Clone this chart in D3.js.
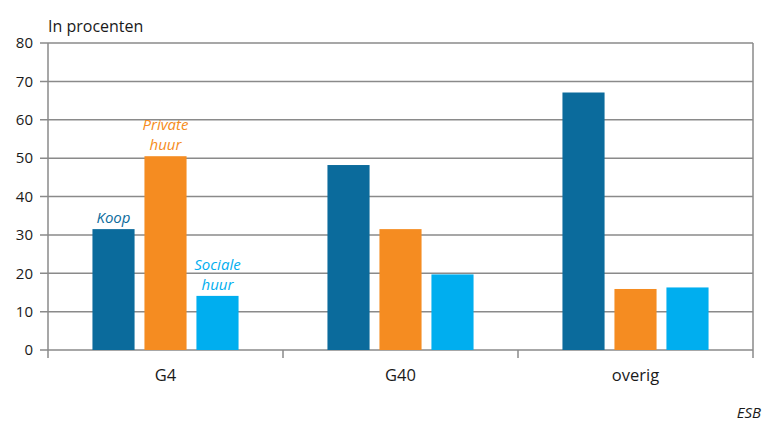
<!DOCTYPE html>
<html><head><meta charset="utf-8">
<script src="https://cdn.jsdelivr.net/npm/d3@7"></script>
<style>body{margin:0;background:#fff}svg{display:block}</style>
</head><body>
<svg id="c" width="764" height="430"></svg>
<script>
const categories = ["G4", "G40", "overig"];
const seriesNames = ["Koop", "Private huur", "Sociale huur"];
const koop = [31.5, 48.2, 67.1];
const privateHuur = [50.5, 31.5, 15.9];
const socialeHuur = [14.1, 19.7, 16.3];
const yTicks = [0, 10, 20, 30, 40, 50, 60, 70, 80];
const colors = ["#0b6b9c", "#f58c21", "#00aeef"];
const labelLines = [["Koop"], ["Private", "huur"], ["Sociale", "huur"]];

const series = [koop, privateHuur, socialeHuur];
const svg = d3.select("#c");
const m = {l: 48, r: 753, t: 43, b: 350};
const x = d3.scaleBand().domain(categories).range([m.l, m.r]).paddingInner(0).paddingOuter(0);
const x1 = d3.scaleBand().domain(d3.range(3)).range([0, x.bandwidth()]).paddingInner(0.19).paddingOuter(0.855);
const y = d3.scaleLinear().domain([0, 80]).range([m.b, m.t]);

const font = "'Open Sans', 'DejaVu Sans', sans-serif";
svg.append("g").selectAll("line").data(yTicks).join("line")
  .attr("x1", m.l - 8).attr("x2", m.r).attr("y1", d => y(d)).attr("y2", d => y(d))
  .attr("stroke", "#8a8a8a").attr("stroke-width", 1.5);
svg.append("g").selectAll("text").data(yTicks).join("text")
  .attr("x", 33).attr("y", d => y(d)).attr("dy", "0.35em").attr("text-anchor", "end")
  .attr("font-family", font).attr("font-size", 15).attr("fill", "#1a1a1a").text(d => d);
svg.append("line").attr("x1", m.l).attr("x2", m.l).attr("y1", m.t).attr("y2", m.b + 8).attr("stroke", "#8a8a8a").attr("stroke-width", 1.5);
svg.append("line").attr("x1", m.r).attr("x2", m.r).attr("y1", m.t).attr("y2", m.b + 8).attr("stroke", "#8a8a8a").attr("stroke-width", 1.5);
svg.append("g").selectAll("line").data(categories.slice(1)).join("line")
  .attr("x1", d => x(d)).attr("x2", d => x(d)).attr("y1", m.b).attr("y2", m.b + 8)
  .attr("stroke", "#8a8a8a").attr("stroke-width", 1.5);
categories.forEach((c, ci) => {
  series.forEach((s, si) => {
    svg.append("rect").attr("x", x(c) + x1(si)).attr("width", x1.bandwidth())
      .attr("y", y(s[ci])).attr("height", y(0) - y(s[ci])).attr("fill", colors[si]);
  });
});
series.forEach((s, si) => {
  const cx = x(categories[0]) + x1(si) + x1.bandwidth() / 2;
  const lines = labelLines[si];
  lines.forEach((t, li) => {
    svg.append("text").attr("x", cx).attr("y", y(s[0]) - 6 - (lines.length - 1 - li) * 20)
      .attr("text-anchor", "middle").attr("font-family", font).attr("font-style", "italic")
      .attr("font-size", 15).attr("fill", colors[si]).text(t);
  });
});
svg.append("g").selectAll("text").data(categories).join("text")
  .attr("x", d => x(d) + x.bandwidth() / 2).attr("y", 381).attr("text-anchor", "middle")
  .attr("font-family", font).attr("font-size", 16.5).attr("fill", "#1a1a1a").text(d => d);
svg.append("text").attr("x", 48).attr("y", 32).attr("font-family", font).attr("font-size", 16).attr("fill", "#1a1a1a").text("In procenten");
svg.append("text").attr("x", 761).attr("y", 418).attr("text-anchor", "end").attr("font-family", font).attr("font-style", "italic").attr("font-size", 15).attr("fill", "#1a1a1a").text("ESB");
</script>
</body></html>
